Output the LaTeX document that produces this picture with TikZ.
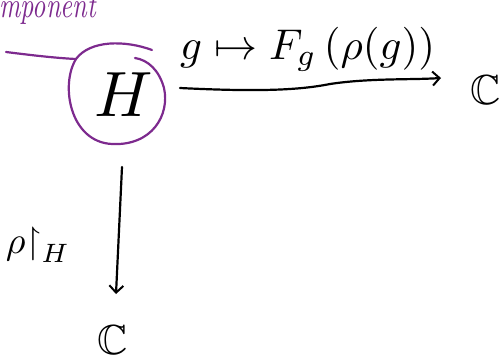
\documentclass[tikz,border=0pt]{standalone}
\usepackage{amssymb}
\usepackage{graphicx}
\usetikzlibrary{arrows.meta}
\definecolor{penpurple}{HTML}{7D2A8E}
\newcommand{\bigsize}[2]{\scalebox{#1}{#2}}
\tikzset{
  ink/.style={line width=2.2pt, line cap=round, line join=round},
  inkarrow/.style={ink, -{Straight Barb[length=7pt, width=14pt, line width=2pt]}},
  plain/.style={inner sep=0pt},
}
\begin{document}
\begin{tikzpicture}[x=1pt,y=-1pt]
\useasboundingbox (0,0) rectangle (501,362);
\clip (0,0) rectangle (501,362);
% purple annotation
\node[plain, anchor=base east, text=penpurple] (comp) at (96,17) {\scalebox{2.6}[3.6]{\itshape component}};
\draw[ink, penpurple] (6,52) .. controls (30,55) and (55,58) .. (76,59);
\draw[ink, penpurple] (152,50) .. controls (125,40) and (90,40) .. (76,59)
   .. controls (60,85) and (70,142) .. (112,144)
   .. controls (152,146) and (170,115) .. (164,88)
   .. controls (159,70) and (148,60) .. (135,58);
% nodes
\node[plain] (H) at (124,95) {\bigsize{6.4}{$H$}};
\node[plain] (C1) at (486,90) {\bigsize{4.2}{$\mathbb{C}$}};
\node[plain] (C2) at (113,340) {\bigsize{4.2}{$\mathbb{C}$}};
\coordinate (a1) at (180,88);
\coordinate (a2) at (441,78);
\coordinate (b1) at (122,167);
\coordinate (b2) at (116,294);
\draw[inkarrow] (a1) .. controls (260,92) and (300,90) .. (330,84) .. controls (370,78) and (410,80) .. (a2);
\draw[inkarrow] (b1) -- (b2);
\node[plain, anchor=south west] (lab1) at (180,72) {\bigsize{4.3}{$g \mapsto F_g\,(\rho(g))$}};
\node[plain] (lab2) at (38,245) {\bigsize{3.8}{$\rho{\restriction}_H$}};
\end{tikzpicture}
\end{document}
